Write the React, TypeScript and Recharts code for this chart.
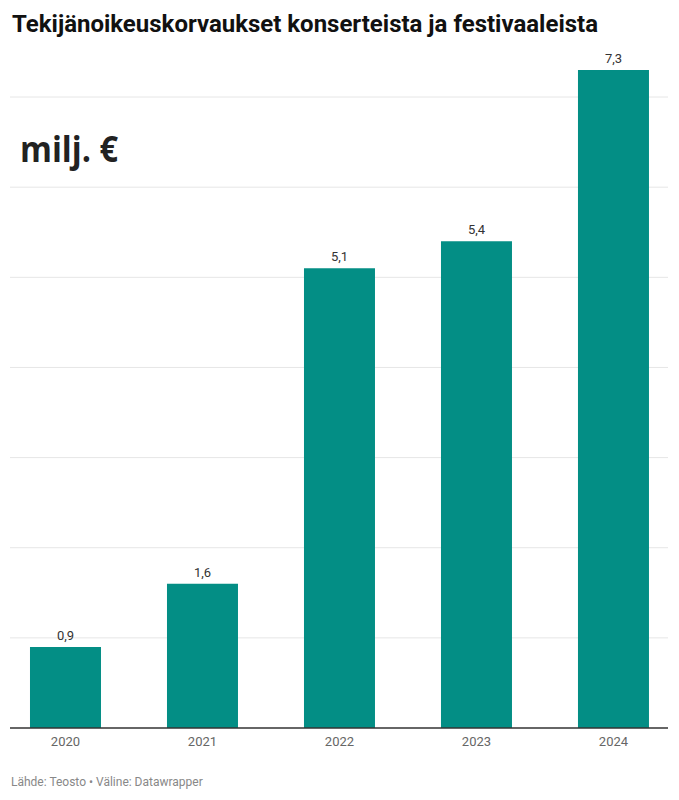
// @ts-nocheck
import { BarChart, Bar, XAxis, YAxis, CartesianGrid, LabelList } from 'recharts';

const years = [2020, 2021, 2022, 2023, 2024];
const values = [0.9, 1.6, 5.1, 5.4, 7.3];
const yTicks = [1, 2, 3, 4, 5, 6, 7];

const data = years.map((y, i) => ({ year: y, value: values[i] }));

const fmt = (v: number) => String(v).replace('.', ',');

export default function App() {
  return (
    <div style={{ position: 'absolute', left: 0, top: 0, width: 679, height: 800, background: '#fff', fontFamily: 'Roboto, sans-serif' }}>
      <BarChart width={679} height={800} data={data} margin={{ top: 70, right: 11, bottom: 42, left: 10 }}>
        <CartesianGrid vertical={false} stroke="#e6e6e6" horizontalValues={yTicks} />
        <XAxis
          dataKey="year"
          type="number"
          domain={[2019.595, 2024.398]}
          ticks={years}
          tickFormatter={(v) => String(v)}
          tickLine={false}
          height={30}
          axisLine={{ stroke: '#333', strokeWidth: 1.5 }}
          tick={{ fill: '#666', fontSize: 13, fontFamily: 'Roboto' }}
          tickMargin={3}
        />
        <YAxis hide domain={[0, 7.3]} ticks={yTicks} allowDataOverflow />
        <Bar dataKey="value" fill="#038e85" barSize={71} isAnimationActive={false}>
          <LabelList dataKey="value" position="top" offset={7} formatter={fmt} fill="#333" fontSize={13} fontFamily="Roboto" />
        </Bar>
        <text x={12} y={32} fontFamily="Roboto" fontWeight={700} fontSize={23} fill="#111" textLength={586} lengthAdjust="spacingAndGlyphs">
          Tekijänoikeuskorvaukset konserteista ja festivaaleista
        </text>
        <text x={20} y={162} fontFamily="'Open Sans'" fontWeight={700} fontSize={35} fill="#222" textLength={98} lengthAdjust="spacingAndGlyphs">
          milj. €
        </text>
        <text x={11} y={786} fontFamily="Roboto" fontSize={12} fill="#888">
          Lähde: Teosto • Väline: Datawrapper
        </text>
      </BarChart>
    </div>
  );
}
